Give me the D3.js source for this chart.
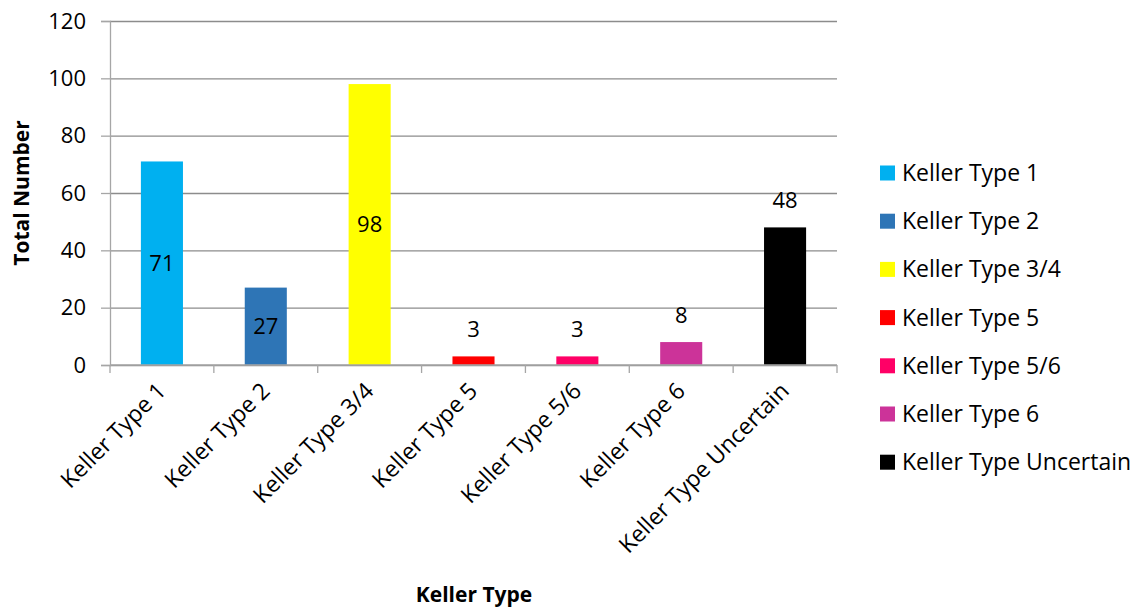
<!DOCTYPE html>
<html>
<head>
<meta charset="utf-8">
<script src="https://cdn.jsdelivr.net/npm/d3@7"></script>
<style>
  body { margin: 0; background: #fff; }
  svg { display: block; font-family: "Open Sans", sans-serif; }
</style>
</head>
<body>
<div id="chart"></div>
<script>
const categories = ["Keller Type 1", "Keller Type 2", "Keller Type 3/4", "Keller Type 5",
    "Keller Type 5/6", "Keller Type 6", "Keller Type Uncertain"];
const totals = [71, 27, 98, 3, 3, 8, 48];
const barColors = ["#00B0F0", "#2E75B6", "#FFFF00", "#FF0000", "#FF0066", "#CC3399", "#000000"];
const labelPlacement = ["center", "center", "center", "outside", "outside", "outside", "outside"];
const yTicks = [0, 20, 40, 60, 80, 100, 120];

function renderChart() {
    const outerWidth = 1142;
    const outerHeight = 610;
    const margin = {top: 21, right: 305, bottom: 245, left: 110};
    const width = outerWidth - margin.left - margin.right;
    const height = outerHeight - margin.top - margin.bottom;
    const fontSize = 22;
    const labelSize = 23;

    const svg = d3.select("#chart")
        .append("svg")
        .attr("width", outerWidth)
        .attr("height", outerHeight);

    const plot = svg.append("g")
        .attr("transform", `translate(${margin.left}, ${margin.top})`);

    const x = d3.scaleBand()
        .domain(categories)
        .range([0, width])
        .paddingInner(0.595)
        .paddingOuter(0.2975);
    const y = d3.scaleLinear()
        .domain([0, 120])
        .range([height, 0]);

    const data = categories.map((name, i) => ({
        name,
        value: totals[i],
        color: barColors[i],
        placement: labelPlacement[i],
    }));

    // gridlines + y axis
    plot.append("g")
        .call(d3.axisLeft(y).tickValues(yTicks).tickSize(-width).tickFormat(""))
        .call((g) => g.select(".domain").remove())
        .call((g) => g.selectAll("line").attr("stroke", "#8c8c8c").attr("stroke-width", 1.3));

    plot.append("g")
        .call(d3.axisLeft(y).tickValues(yTicks).tickSize(9).tickPadding(15))
        .call((g) => g.select(".domain").attr("stroke", "#a6a6a6").attr("stroke-width", 1.3))
        .call((g) => g.selectAll("line").attr("stroke", "#a6a6a6").attr("stroke-width", 1.3))
        .call((g) => g.selectAll("text")
            .attr("font-size", fontSize)
            .attr("fill", "#000")
            .attr("font-family", "Open Sans, sans-serif"));

    plot.selectAll(".bar")
        .data(data)
        .enter()
        .append("rect")
        .attr("class", "bar")
        .attr("x", (d) => x(d.name))
        .attr("y", (d) => y(d.value))
        .attr("width", x.bandwidth())
        .attr("height", (d) => height - y(d.value))
        .attr("fill", (d) => d.color);

    // x axis with ticks at category boundaries
    const xAxis = plot.append("g")
        .attr("transform", `translate(0, ${height})`);
    xAxis.append("line")
        .attr("x1", 0)
        .attr("x2", width)
        .attr("stroke", "#a6a6a6")
        .attr("stroke-width", 1.5);
    const step = x.step();
    xAxis.selectAll(".xtick")
        .data(d3.range(categories.length + 1))
        .enter()
        .append("line")
        .attr("x1", (i) => i * step)
        .attr("x2", (i) => i * step)
        .attr("y1", 0)
        .attr("y2", 8)
        .attr("stroke", "#a6a6a6")
        .attr("stroke-width", 1.3);
    xAxis.selectAll(".xlabel")
        .data(categories)
        .enter()
        .append("text")
        .attr("transform", (d) => `translate(${x(d) + x.bandwidth() / 2 - 6}, 16) rotate(-45)`)
        .attr("text-anchor", "end")
        .attr("dy", "0.7em")
        .attr("font-size", labelSize)
        .attr("fill", "#000")
        .text((d) => d);

    plot.selectAll(".value-label")
        .data(data)
        .enter()
        .append("text")
        .attr("x", (d) => x(d.name) + x.bandwidth() / 2)
        .attr("y", (d) => d.placement === "center"
            ? (y(d.value) + height) / 2
            : y(d.value) - 27)
        .attr("dy", "0.35em")
        .attr("text-anchor", "middle")
        .attr("font-size", fontSize)
        .attr("fill", "#000")
        .text((d) => d.value);

    svg.append("text")
        .attr("transform", `translate(29, ${margin.top + height / 2}) rotate(-90)`)
        .attr("text-anchor", "middle")
        .attr("font-size", 21)
        .attr("font-weight", "bold")
        .text("Total Number");

    svg.append("text")
        .attr("x", 474)
        .attr("y", 602)
        .attr("text-anchor", "middle")
        .attr("font-size", 21)
        .attr("font-weight", "bold")
        .text("Keller Type");

    const legend = svg.append("g")
        .attr("transform", "translate(880, 173)");
    data.forEach((d, i) => {
        const item = legend.append("g")
            .attr("transform", `translate(0, ${i * 48.2})`);
        item.append("rect")
            .attr("y", -7.5)
            .attr("width", 15)
            .attr("height", 15)
            .attr("fill", d.color);
        item.append("text")
            .attr("x", 22)
            .attr("dy", "0.35em")
            .attr("font-size", labelSize)
            .attr("fill", "#000")
            .text(d.name);
    });
}

renderChart();
</script>
</body>
</html>
